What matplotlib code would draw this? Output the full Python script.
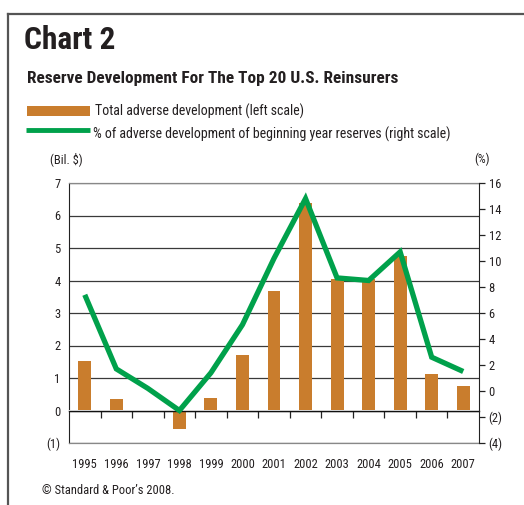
import matplotlib.pyplot as plt
from matplotlib.lines import Line2D
from matplotlib.patches import Rectangle

plt.rcParams['font.family'] = ['Roboto Condensed', 'DejaVu Sans']

years = ['1995', '1996', '1997', '1998', '1999', '2000', '2001',
         '2002', '2003', '2004', '2005', '2006', '2007']
adverse_bil = [1.52, 0.35, 0.02, -0.56, 0.38, 1.72, 3.68,
               6.37, 4.05, 4.04, 4.75, 1.13, 0.75]
adverse_pct = [7.4, 1.7, 0.2, -1.5, 1.4, 5.1, 10.2,
               14.8, 8.7, 8.5, 10.7, 2.6, 1.5]
left_ticks = [-1, 0, 1, 2, 3, 4, 5, 6, 7]
left_labels = ['(1)', '0', '1', '2', '3', '4', '5', '6', '7']
right_ticks = [-4, -2, 0, 2, 4, 6, 8, 10, 12, 14, 16]
right_labels = ['(4)', '(2)', '0', '2', '4', '6', '8', '10', '12', '14', '16']

orange = '#C97D2D'
green = '#00A14B'
txt = '#231F20'

fig = plt.figure(figsize=(5.24, 5.05), dpi=100)

# outer frame (left and top edges only)
fig.add_artist(Line2D([8 / 524, 8 / 524], [0, 1 - 14 / 505],
                      transform=fig.transFigure, color='#555555', lw=1.6))
fig.add_artist(Line2D([8 / 524, 1], [1 - 14 / 505, 1 - 14 / 505],
                      transform=fig.transFigure, color='#555555', lw=1.6))

fig.text(24 / 524, 1 - 40 / 505, 'Chart 2', fontsize=22.6, fontweight='bold',
         color=txt, va='center', ha='left')
fig.text(27 / 524, 1 - 79 / 505, 'Reserve Development For The Top 20 U.S. Reinsurers',
         fontsize=12.4, fontweight='bold', color=txt, va='center', ha='left')

# legend
fig.add_artist(Rectangle((27 / 524, 1 - 116 / 505), 63 / 524, 9.5 / 505,
                         transform=fig.transFigure, color=orange, lw=0))
fig.text(95 / 524, 1 - 111 / 505, 'Total adverse development (left scale)',
         fontsize=10, color=txt, va='center', ha='left')
fig.add_artist(Line2D([26 / 524, 90 / 524], [1 - 130 / 505, 1 - 130 / 505],
                      transform=fig.transFigure, color=green, lw=3.5,
                      solid_capstyle='butt'))
fig.text(93 / 524, 1 - 134 / 505,
         '% of adverse development of beginning year reserves (right scale)',
         fontsize=10, color=txt, va='center', ha='left')

fig.text(50 / 524, 1 - 159 / 505, '(Bil. $)', fontsize=9, color=txt,
         va='center', ha='left')
fig.text(482 / 524, 1 - 159 / 505, '(%)', fontsize=9, color=txt,
         va='center', ha='center')
fig.text(42 / 524, 1 - 491 / 505, '\u00a9 Standard & Poor\u2019s 2008.',
         fontsize=9, color=txt, va='center', ha='left')

ax = fig.add_axes([69 / 524, 62 / 505, 410 / 524, 260 / 505])
x = list(range(len(years)))
ax.bar(x, adverse_bil, width=0.41, color=orange, zorder=3)
ax.set_xlim(-0.5, len(years) - 0.5)
ax.set_ylim(-1, 7)
ax.set_yticks(left_ticks)
ax.set_yticklabels(left_labels)
ax.yaxis.grid(True, color='#3a3a3a', lw=0.9, zorder=0)
ax.set_axisbelow(True)
ax.tick_params(axis='y', length=0, pad=6, labelsize=9, labelcolor=txt)
ax.set_xticks(x)
ax.set_xticklabels(years)
ax.tick_params(axis='x', length=0, pad=11, labelsize=9, labelcolor=txt)
for side in ['top', 'bottom']:
    ax.spines[side].set_color('#888888')
    ax.spines[side].set_linewidth(0.9)
ax.spines['left'].set_color('#222222')
ax.spines['right'].set_visible(False)

# zero line with ticks between the years
zero_pos = (0 - ax.get_ylim()[0]) / (ax.get_ylim()[1] - ax.get_ylim()[0])
zx = ax.secondary_xaxis(zero_pos)
zx.set_xticks([i + 0.5 for i in x[:-1]])
zx.set_xticklabels([])
zx.tick_params(axis='x', direction='out', length=5, width=0.9, color='#222222')
zx.spines['bottom'].set_color('#111111')
zx.spines['bottom'].set_linewidth(1.0)
zx.set_zorder(4)

ax2 = ax.twinx()
ax2.plot(x, adverse_pct, color=green, lw=3.8, solid_joinstyle='miter',
         solid_capstyle='butt', zorder=5)
ax2.set_ylim(-4, 16)
ax2.set_yticks(right_ticks)
ax2.set_yticklabels(right_labels)
ax2.tick_params(axis='y', direction='out', length=4, width=0.9, pad=3,
                labelsize=9, labelcolor=txt, color='#222222')
for side in ['top', 'bottom', 'left']:
    ax2.spines[side].set_visible(False)
ax2.spines['right'].set_color('#222222')

fig.savefig('out.png', dpi=100)
